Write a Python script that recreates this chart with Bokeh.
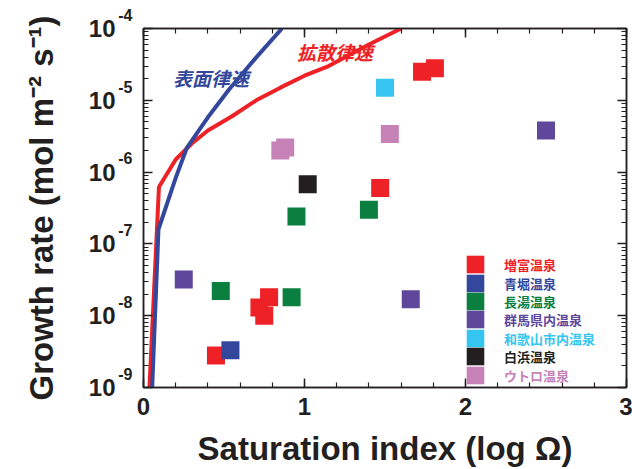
import numpy as np
from bokeh.plotting import figure
from bokeh.models import (Range1d, FixedTicker, LinearAxis, LogAxis, Label, Legend, LegendItem,
                          CustomJSTickFormatter)
from bokeh.embed import file_html
from bokeh.resources import INLINE

# ---------------- data ----------------
groups = ["増富温泉", "青堀温泉", "長湯温泉", "群馬県内温泉", "和歌山市内温泉", "白浜温泉", "ウトロ温泉"]
colors = ["#EE2226", "#33479D", "#0A7F40", "#5F479B", "#35C5F0", "#231F20", "#C682B7"]

masutomi_x = [0.45, 0.72, 0.75, 0.78, 1.47, 1.73, 1.81]
masutomi_y = [2.8e-9, 1.3e-8, 1.0e-8, 1.8e-8, 6.0e-7, 2.5e-5, 2.8e-5]
aobori_x = [0.54]
aobori_y = [3.3e-9]
nagayu_x = [0.48, 0.92, 0.95, 1.40]
nagayu_y = [2.2e-8, 1.8e-8, 2.4e-7, 3.0e-7]
gunma_x = [0.25, 1.66, 2.50]
gunma_y = [3.2e-8, 1.7e-8, 3.8e-6]
wakayama_x = [1.50]
wakayama_y = [1.5e-5]
shirahama_x = [1.02]
shirahama_y = [6.8e-7]
utoro_x = [0.85, 0.88, 1.53]
utoro_y = [2.0e-6, 2.2e-6, 3.4e-6]

series_x = [masutomi_x, aobori_x, nagayu_x, gunma_x, wakayama_x, shirahama_x, utoro_x]
series_y = [masutomi_y, aobori_y, nagayu_y, gunma_y, wakayama_y, shirahama_y, utoro_y]

# rate-law curves
surface_x = [0.054, 0.093, 0.20, 0.27, 0.40, 0.53, 0.71, 0.86]
surface_y = [1e-9, 1.6e-7, 8.3e-7, 2.2e-6, 5.8e-6, 1.4e-5, 4.2e-5, 1.0e-4]
diffusion_x = [0.037, 0.096, 0.20, 0.30, 0.40, 0.55, 0.70, 0.85, 1.00, 1.15, 1.40, 1.60]
diffusion_y = [1e-9, 6.2e-7, 1.5e-6, 2.5e-6, 3.8e-6, 6.0e-6, 1.0e-5, 1.5e-5, 2.2e-5, 3.0e-5, 6.0e-5, 1.0e-4]
surface_label = "表面律速"
diffusion_label = "拡散律速"

x_ticks = [0, 1, 2, 3]
x_minor = [0.2 * i for i in range(16)]
y_exps = [-9, -8, -7, -6, -5, -4]
y_ticks = [10.0 ** e for e in y_exps]
y_minor = [m * 10.0 ** e for e in y_exps[:-1] for m in range(2, 10)]
y_base = "10"
y_exp_labels = [str(e) for e in y_exps]

x_title = "Saturation index (log Ω)"
y_title = "Growth rate (mol m⁻² s⁻¹)"

# ---------------- figure ----------------
INK = "#231F20"
FONT = "Liberation Sans"
CJK = "Noto Sans CJK JP"

p = figure(width=632, height=469, y_axis_type="log",
           x_range=Range1d(0, 3), y_range=Range1d(1e-9, 1e-4),
           output_backend="svg", toolbar_location=None,
           min_border_left=143, min_border_right=6, min_border_top=28, min_border_bottom=81)
p.background_fill_color = "white"
p.border_fill_color = "white"
p.xgrid.visible = False
p.ygrid.visible = False
p.outline_line_color = INK
p.outline_line_width = 1.5

xt = FixedTicker(ticks=x_ticks, minor_ticks=x_minor)
yt = FixedTicker(ticks=y_ticks, minor_ticks=y_minor)

def style_axis(ax):
    ax.major_tick_in = 9
    ax.major_tick_out = 0
    ax.minor_tick_in = 5
    ax.minor_tick_out = 0
    ax.axis_line_color = INK
    ax.axis_line_width = 1.5
    ax.major_tick_line_color = INK
    ax.major_tick_line_width = 1.5
    ax.minor_tick_line_color = INK
    ax.minor_tick_line_width = 1.2
    ax.major_label_text_font = FONT
    ax.major_label_text_font_style = "bold"
    ax.major_label_text_color = INK
    ax.major_label_text_font_size = "24px"
    ax.axis_label_text_font = FONT
    ax.axis_label_text_font_style = "bold"
    ax.axis_label_text_color = INK
    ax.axis_label_text_font_size = "33px"

xa = p.xaxis[0]
xa.ticker = xt
style_axis(xa)
xa.major_label_standoff = 10
xa.axis_label = x_title
xa.axis_label_standoff = 12

# inner left axis: real ticks + exponent labels (raised by an empty second line)
ya = p.yaxis[0]
ya.ticker = yt
style_axis(ya)
ya.formatter = CustomJSTickFormatter(args=dict(labels=y_exp_labels),
                                     code="return labels[index] + '\\n '")
ya.major_label_text_font_size = "16px"
ya.major_label_text_line_height = 1.55
ya.major_label_standoff = 11

# outer left axis: the "10" bases and the axis title
yb = LogAxis(ticker=yt, formatter=CustomJSTickFormatter(args=dict(base=y_base), code="return base"))
style_axis(yb)
yb.axis_line_color = None
yb.major_tick_line_color = None
yb.minor_tick_line_color = None
yb.major_tick_in = 0
yb.minor_tick_in = 0
yb.major_label_standoff = 0
yb.axis_label = y_title
yb.axis_label_standoff = 26
p.add_layout(yb, "left")

top = LinearAxis(ticker=xt, formatter=CustomJSTickFormatter(code="return ''"))
style_axis(top)
top.major_label_standoff = 0
p.add_layout(top, "above")
right = LogAxis(ticker=yt, formatter=CustomJSTickFormatter(code="return ''"))
style_axis(right)
right.major_label_standoff = 0
p.add_layout(right, "right")

# curves
p.line(diffusion_x, diffusion_y, line_color=colors[0], line_width=4)
p.line(surface_x, surface_y, line_color=colors[1], line_width=4)

p.add_layout(Label(x=0.42, y=2.1e-5, text=surface_label, text_font=CJK, text_font_style="bold italic",
                   text_font_size="19px", text_color=colors[1], text_align="center", text_baseline="middle"))
p.add_layout(Label(x=1.19, y=4.8e-5, text=diffusion_label, text_font=CJK, text_font_style="bold italic",
                   text_font_size="19px", text_color=colors[0], text_align="center", text_baseline="middle"))

# points
for xs, ys, c in zip(series_x, series_y, colors):
    p.scatter(xs, ys, marker="square", size=18, fill_color=c, line_color=None)

# legend: one small legend per entry so that each label keeps its own colour
row_bottoms = [112, 93, 75, 57, 38, 20, 1]
nan = np.array([np.nan])
for name, c, vy in zip(groups, colors, row_bottoms):
    r = p.quad(left=nan, right=nan, top=nan, bottom=nan, fill_color=c, line_color=None)
    lg = Legend(items=[LegendItem(label=name, renderers=[r])], location=(321, vy),
                glyph_width=22, glyph_height=22, label_height=18, label_standoff=18,
                label_text_font=CJK, label_text_font_style="bold", label_text_font_size="13px",
                label_text_color=c, padding=0, margin=0, spacing=0,
                border_line_alpha=0, background_fill_alpha=0)
    p.add_layout(lg)

open("out.html", "w").write(file_html(p, INLINE))
